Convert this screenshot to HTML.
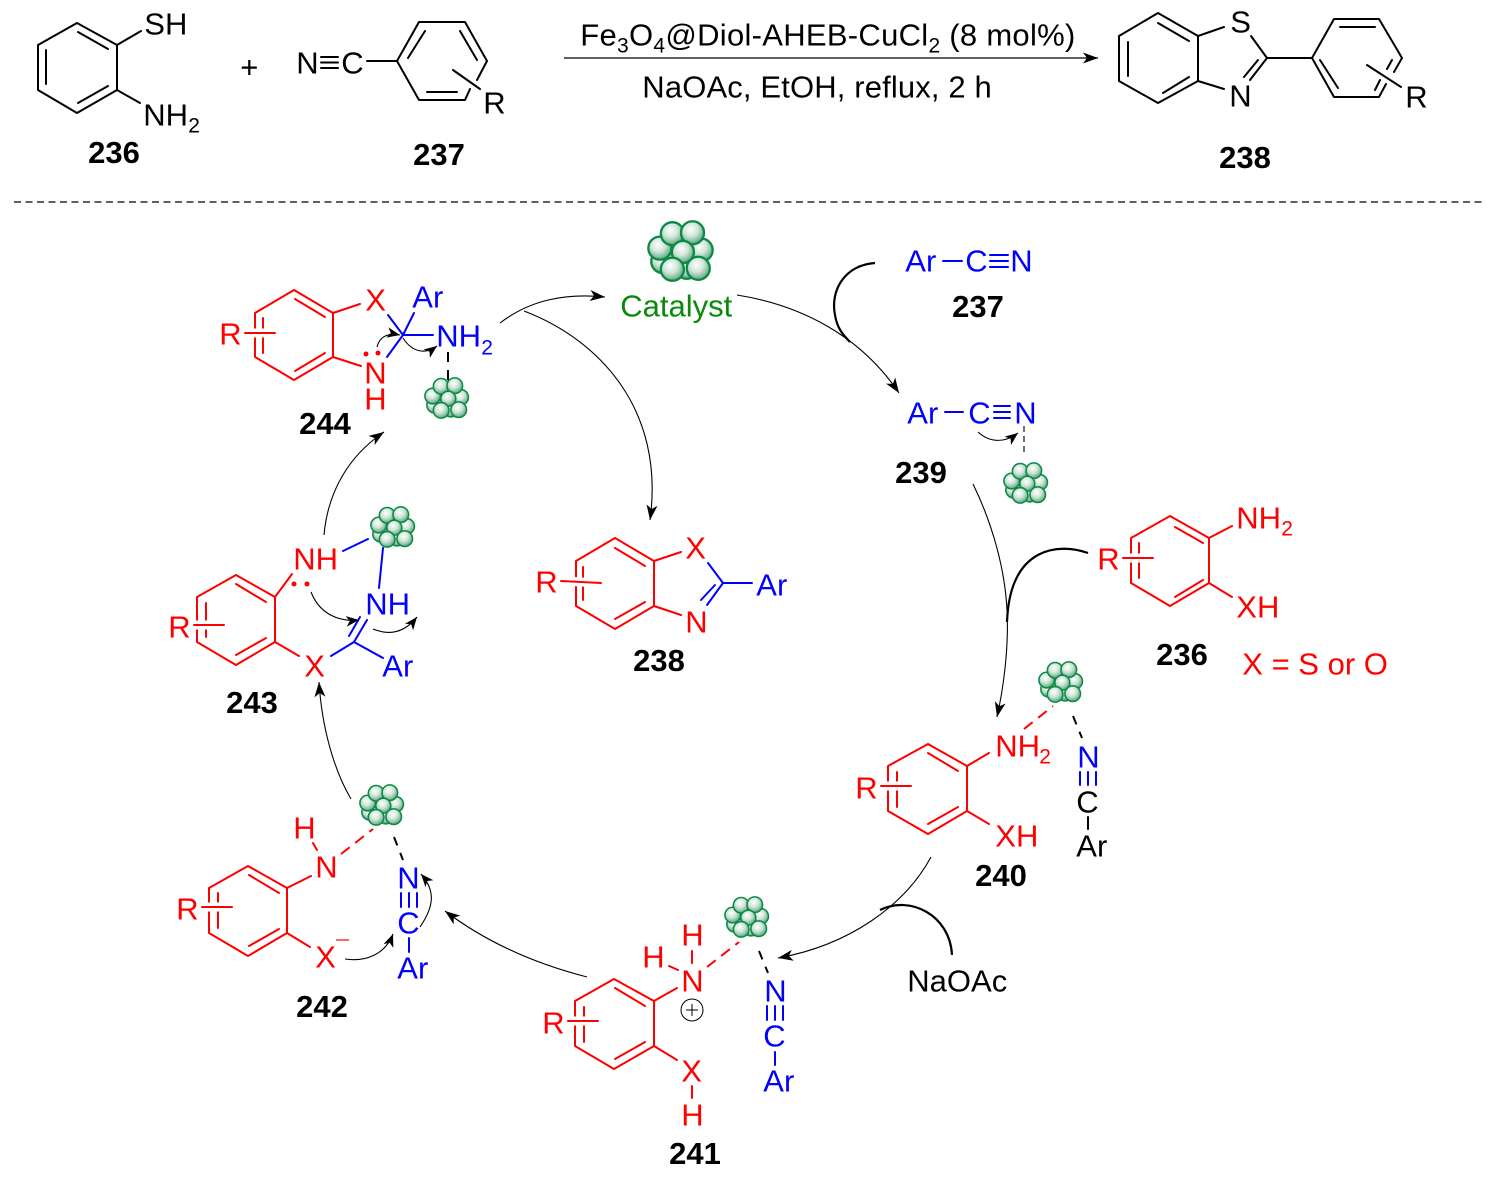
<!DOCTYPE html>
<html><head><meta charset="utf-8"><style>
html,body{margin:0;padding:0;background:#fff}
svg{display:block}
text{font-family:"Liberation Sans",sans-serif;font-size:31px}
text:not(.l){transform:translate(-.7px,.5px)}
.l{font-weight:bold;font-size:31px;text-anchor:middle;fill:#000}
.s{font-size:21px}
.r{fill:#f00}.b{fill:#00f}.k{fill:#000}
.kl{stroke:#000;stroke-width:2;fill:none;stroke-linecap:round;stroke-linejoin:round}
.rl{stroke:#f00;stroke-width:2;fill:none;stroke-linecap:round;stroke-linejoin:round}
.bl{stroke:#00f;stroke-width:2;fill:none;stroke-linecap:round;stroke-linejoin:round}
.h{stroke:#fff;stroke-width:9;fill:none}
.a{stroke:#000;stroke-width:1.1;fill:none;marker-end:url(#ah)}
.a2{stroke:#000;stroke-width:1.1;fill:none;marker-end:url(#as)}
.t{stroke:#000;stroke-width:2.2;fill:none}
.dr{stroke:#f00;stroke-width:2;stroke-dasharray:11 7;fill:none}
.dk{stroke:#000;stroke-width:2;stroke-dasharray:9 8;fill:none}
</style></head><body>
<svg width="1492" height="1182" viewBox="0 0 1492 1182" xmlns="http://www.w3.org/2000/svg">
<defs>
<radialGradient id="g" cx="0.42" cy="0.35" r="0.7"><stop offset="0" stop-color="#fff"/><stop offset="0.45" stop-color="#cfe6d8"/><stop offset="1" stop-color="#4f9c74"/></radialGradient>
<marker id="ah" markerUnits="userSpaceOnUse" markerWidth="20" markerHeight="14" viewBox="-16 -7 20 14" refX="0" refY="0" orient="auto"><path d="M0,0 L-15,-5.5 L-11,0 L-15,5.5 Z" fill="#000"/></marker>
<marker id="as" markerUnits="userSpaceOnUse" markerWidth="20" markerHeight="14" viewBox="-13 -6 16 12" refX="0" refY="0" orient="auto"><path d="M0,0 L-11,-4.5 L-8,0 L-11,4.5 Z" fill="#000"/></marker>
<g id="cat" stroke="#0a8a45" stroke-width="2.4" fill="url(#g)">
<circle cx="-19" cy="11" r="12"/><circle cx="6" cy="17" r="12"/><circle cx="21" cy="-1" r="12"/>
<circle cx="-22" cy="-3" r="12"/><circle cx="-9" cy="-18" r="12"/><circle cx="12" cy="-19" r="12"/>
<circle cx="2" cy="1" r="11.5"/><circle cx="-9" cy="19" r="12"/><circle cx="18" cy="18" r="12"/>
</g>
</defs>
<rect width="1492" height="1182" fill="#fff"/>

<!-- top: 236 -->
<path class="kl" d="M77,23 L117,45 V90 L77,113 L38,90 V45 Z M78,32 L108,49 M46,50 V84 M78,103 L108,86 M117,45 L141,31 M117,90 L140,103"/>
<text x="145" y="34" class="k">SH</text>
<text x="144" y="125" class="k">NH</text><text x="189" y="132" class="s k">2</text>
<text x="114" y="163" class="l">236</text>
<text x="250" y="77" text-anchor="middle" class="k">+</text>

<!-- top: 237 -->
<text x="297" y="73" class="k">N</text><text x="342" y="73" class="k">C</text>
<path class="kl" stroke-width="1.6" d="M321,57 H338 M321,62.500 H338 M321,68 H338"/>
<path class="kl" d="M367,61 H397 M397,61 L419,22 H465 L487,61 L477,80 M470,89 L465,100 H419 L397,61 M425,31 L408,58 M460,31 L477,60 M427,92 H457 M453,70 L480,89"/>
<text x="484" y="113" class="k">R</text>
<text x="439" y="165" class="l">237</text>

<!-- top: arrow -->
<path d="M564,58 H1098" stroke="#000" stroke-width="1.3" fill="none" marker-end="url(#ah)"/>
<text x="581" y="45" class="k" letter-spacing=".28">Fe<tspan dy="7" font-size="21">3</tspan><tspan dy="-7">O</tspan><tspan dy="7" font-size="21">4</tspan><tspan dy="-7">@Diol-AHEB-CuCl</tspan><tspan dy="7" font-size="21">2</tspan><tspan dy="-7"> (8 mol%)</tspan></text>
<text x="643" y="97" class="k" letter-spacing=".14">NaOAc, EtOH, reflux, 2 h</text>

<!-- top: 238 -->
<path class="kl" d="M1158,13 L1198,36 V81 L1158,103 L1119,81 V36 Z M1158,23 L1189,41 M1128,42 V76 M1163,93 L1189,77 M1198,36 L1224,27 M1198,81 L1224,89 M1251,36 L1267,58 L1250,80 M1258,60 L1244,77 M1267,58 H1312 M1312,58 L1334,19 H1379 L1402,58 L1394,72 M1386,84 L1379,97 H1334 L1312,58 M1340,27 H1375 M1320,60 L1338,88 M1392,60 L1387,69 M1380,80 L1375,90 M1367,65 L1401,87"/>
<text x="1231" y="32" class="k">S</text><text x="1230" y="106" class="k">N</text>
<text x="1406" y="107" class="k">R</text>
<text x="1245" y="168" class="l">238</text>

<!-- divider -->
<path d="M14,202 H1484" stroke="#000" stroke-width="1.2" stroke-dasharray="7 4.500"/>

<!-- catalyst -->
<use href="#cat" transform="translate(681,251) scale(.96)"/>
<text x="621" y="316" fill="#0a8a0a">Catalyst</text>

<!-- 237 / 239 -->
<text x="906" y="271" class="b">Ar</text><text x="966" y="271" class="b">C</text><text x="1011" y="271" class="b">N</text>
<path class="bl" d="M943,261 H962 M990,255 H1008 M990,261 H1008 M990,267 H1008"/>
<text x="978" y="317" class="l">237</text>
<path class="t" d="M875,263 C845,265 830,290 835,315 C837,328 843,335 850,342"/>
<path class="a" d="M737,295 C800,305 860,335 899,393"/>

<text x="908" y="423" class="b">Ar</text><text x="969" y="423" class="b">C</text><text x="1015" y="423" class="b">N</text>
<path class="bl" d="M945,412 H963 M994,406 H1010 M994,412 H1010 M994,418 H1010"/>
<path class="a2" d="M978,432 C990,443 1005,443 1018,433"/>
<path d="M1024,426 V455" stroke="#444" stroke-width="1.5" stroke-dasharray="6 4" fill="none"/>
<use href="#cat" transform="translate(1026,483) scale(.65)"/>
<text x="921" y="483" class="l">239</text>

<path class="a" d="M973,484 C993,525 1005,570 1007,610 C1009,650 1003,690 997,717"/>
<path class="t" d="M1088,553 C1060,543 1010,545 1007,622"/>

<!-- 236 cycle -->
<path class="rl" d="M1170,516 L1209,538 V583 L1170,606 L1131,583 V538 Z M1175,527 L1203,543 M1175,597 L1203,580 M1139,543 V578 M1209,538 L1232,526 M1209,583 L1232,597"/>
<path class="h" d="M1126,558 H1150"/><path class="rl" d="M1123,558 H1153"/>
<text x="1098" y="569" class="r">R</text>
<text x="1237" y="528" class="r">NH</text><text x="1282" y="535" class="s r">2</text>
<text x="1237" y="617" class="r">XH</text>
<text x="1182" y="665" class="l">236</text>
<text x="1243" y="674" class="r">X = S or O</text>

<!-- 240 -->
<use href="#cat" transform="translate(1061,682) scale(.65)"/>
<path class="rl" d="M928,744 L967,766 V811 L928,834 L888,811 V766 Z M928,753 L958,771 M928,824 L958,807 M897,772 V807 M967,766 L989,753 M967,811 L989,824"/>
<path class="h" d="M884,786 H908"/><path class="rl" d="M881,786 H911"/>
<text x="856" y="798" class="r">R</text>
<text x="996" y="756" class="r">NH</text><text x="1040" y="763" class="s r">2</text>
<text x="996" y="846" class="r">XH</text>
<path class="dr" d="M1024,729 L1053,706"/>
<path class="dk" d="M1073,716 L1082,738"/>
<text x="1078" y="767" class="b">N</text>
<path class="bl" d="M1080,772 V785 M1088,772 V785 M1096,772 V785"/>
<text x="1077" y="812" class="k">C</text>
<path class="kl" d="M1088,817 V829"/>
<text x="1077" y="856" class="k">Ar</text>
<text x="1001" y="886" class="l">240</text>

<path class="a" d="M931,857 C905,905 850,945 778,958"/>
<path class="t" stroke-width="1.6" d="M880,910 C910,895 950,915 952,955"/>
<text x="908" y="991" class="k">NaOAc</text>

<!-- 241 -->
<use href="#cat" transform="translate(747,917) scale(.65)"/>
<path class="rl" d="M614,979 L654,1001 V1046 L614,1069 L575,1046 V1001 Z M615,988 L645,1006 M615,1059 L645,1042 M584,1007 V1042 M654,1001 L677,988 M692,951 V963 M669,966 L678,970 M654,1046 L677,1060 M692,1086 V1098"/>
<path class="h" d="M571,1021 H595"/><path class="rl" d="M568,1021 H598"/>
<text x="543" y="1033" class="r">R</text>
<text x="682" y="991" class="r">N</text>
<text x="682" y="945" class="r">H</text>
<text x="643" y="967" class="r">H</text>
<text x="682" y="1081" class="r">X</text>
<text x="682" y="1125" class="r">H</text>
<circle cx="692" cy="1010" r="11" fill="none" stroke="#000" stroke-width="1"/>
<path d="M686,1010 H698 M692,1004 V1016" stroke="#000" stroke-width="1"/>
<path class="dr" d="M707,967 L739,942"/>
<path class="dk" d="M759,951 L768,973"/>
<text x="765" y="1001" class="b">N</text>
<path class="bl" d="M767,1006 V1020 M775,1006 V1020 M783,1006 V1020"/>
<text x="764" y="1046" class="b">C</text>
<path class="bl" d="M775,1052 V1065"/>
<text x="764" y="1091" class="b">Ar</text>
<text x="695" y="1164" class="l">241</text>

<path class="a" d="M587,977 C540,965 490,945 445,911"/>

<!-- 242 -->
<use href="#cat" transform="translate(382,805) scale(.65)"/>
<path class="rl" d="M248,866 L287,888 V933 L248,956 L209,933 V888 Z M249,875 L279,893 M249,946 L279,929 M218,893 V928 M287,888 L311,876 M313,843 L317,850 M287,933 L310,947"/>
<path class="h" d="M205,907 H229"/><path class="rl" d="M202,907 H232"/>
<text x="177" y="919" class="r">R</text>
<text x="316" y="877" class="r">N</text>
<text x="294" y="838" class="r">H</text>
<text x="316" y="967" class="r">X</text>
<path d="M336,940 H349" stroke="#f66" stroke-width="2"/>
<path class="a2" d="M345,959 C365,962 385,955 393,934"/>
<path class="a2" d="M420,927 C435,905 435,890 421,874"/>
<path class="dr" d="M341,854 L373,829"/>
<path class="dk" d="M394,837 L403,860"/>
<text x="398" y="888" class="b">N</text>
<path class="bl" d="M401,893 V907 M409,893 V907 M417,893 V907"/>
<text x="398" y="933" class="b">C</text>
<path class="bl" d="M409,938 V952"/>
<text x="398" y="978" class="b">Ar</text>
<text x="322" y="1017" class="l">242</text>

<path class="a" d="M351,799 C335,772 322,730 319,682"/>

<!-- 243 -->
<use href="#cat" transform="translate(393,527) scale(.65)"/>
<path class="rl" d="M236,575 L275,597 V642 L236,665 L197,642 V597 Z M236,584 L266,602 M236,655 L266,638 M206,603 V637 M275,597 L292,574 M275,642 L299,656"/>
<path class="h" d="M192,625 H221"/><path class="rl" d="M194,625 H224"/>
<text x="169" y="637" class="r">R</text>
<text x="294" y="569" class="r">NH</text>
<circle cx="294" cy="584" r="2.500" fill="#f00"/><circle cx="307" cy="584" r="2.500" fill="#f00"/>
<text x="305" y="676" class="r">X</text>
<path class="bl" d="M331,656 L354,642 L383,658 M354,642 L367,620 M349,636 L360,617 M343,551 L368,539 M379,588 L383,548"/>
<text x="383" y="676" class="b">Ar</text>
<text x="366" y="614" class="b">NH</text>
<path class="a2" d="M311,592 C320,615 340,622 359,620"/>
<path class="a2" d="M373,629 C390,636 405,632 417,617"/>
<text x="252" y="713" class="l">243</text>

<path class="a" d="M324,535 C328,490 350,455 384,432"/>

<!-- 244 -->
<use href="#cat" transform="translate(447,398) scale(.65)"/>
<path class="rl" d="M294,290 L333,313 V357 L294,380 L255,357 V313 Z M295,299 L325,317 M295,371 L325,353 M263,318 V353 M333,313 L360,304 M333,357 L361,366"/>
<path class="h" d="M248,333 H272"/><path class="rl" d="M245,333 H275"/>
<text x="220" y="344" class="r">R</text>
<text x="366" y="310" class="r">X</text>
<text x="365" y="383" class="r">N</text>
<text x="365" y="409" class="r">H</text>
<circle cx="366" cy="354" r="2.500" fill="#f00"/><circle cx="378" cy="353" r="2.500" fill="#f00"/>
<path class="bl" d="M388,315 L403,335 L414,313 M403,335 H433 M403,335 L387,357"/>
<text x="413" y="307" class="b">Ar</text>
<text x="437" y="346" class="b">NH</text><text x="482" y="354" class="s b">2</text>
<path class="a2" d="M377,347 C380,335 390,333 400,335"/>
<path class="a2" d="M403,338 C412,352 425,355 437,346"/>
<path d="M448,352 V380" stroke="#000" stroke-width="2" stroke-dasharray="10 8" fill="none"/>
<text x="325" y="434" class="l">244</text>

<path class="a" d="M500,323 C530,300 565,293 605,297"/>
<path class="a" d="M524,311 C600,340 665,410 650,520"/>

<!-- 238 cycle -->
<path class="rl" d="M615,538 L654,561 V606 L615,629 L576,606 V561 Z M615,548 L645,566 M615,619 L645,602 M583,567 V600 M654,561 L681,552 M654,606 L681,615"/>
<path class="h" d="M565,581 L597,583"/><path class="rl" d="M561,581 L601,583"/>
<text x="536" y="592" class="r">R</text>
<text x="686" y="558" class="r">X</text>
<text x="686" y="632" class="r">N</text>
<path class="bl" d="M708,563 L723,583 H752 M723,583 L707,605 M715,585 L701,600"/>
<text x="757" y="595" class="b">Ar</text>
<text x="659" y="671" class="l">238</text>
</svg>
</body></html>
